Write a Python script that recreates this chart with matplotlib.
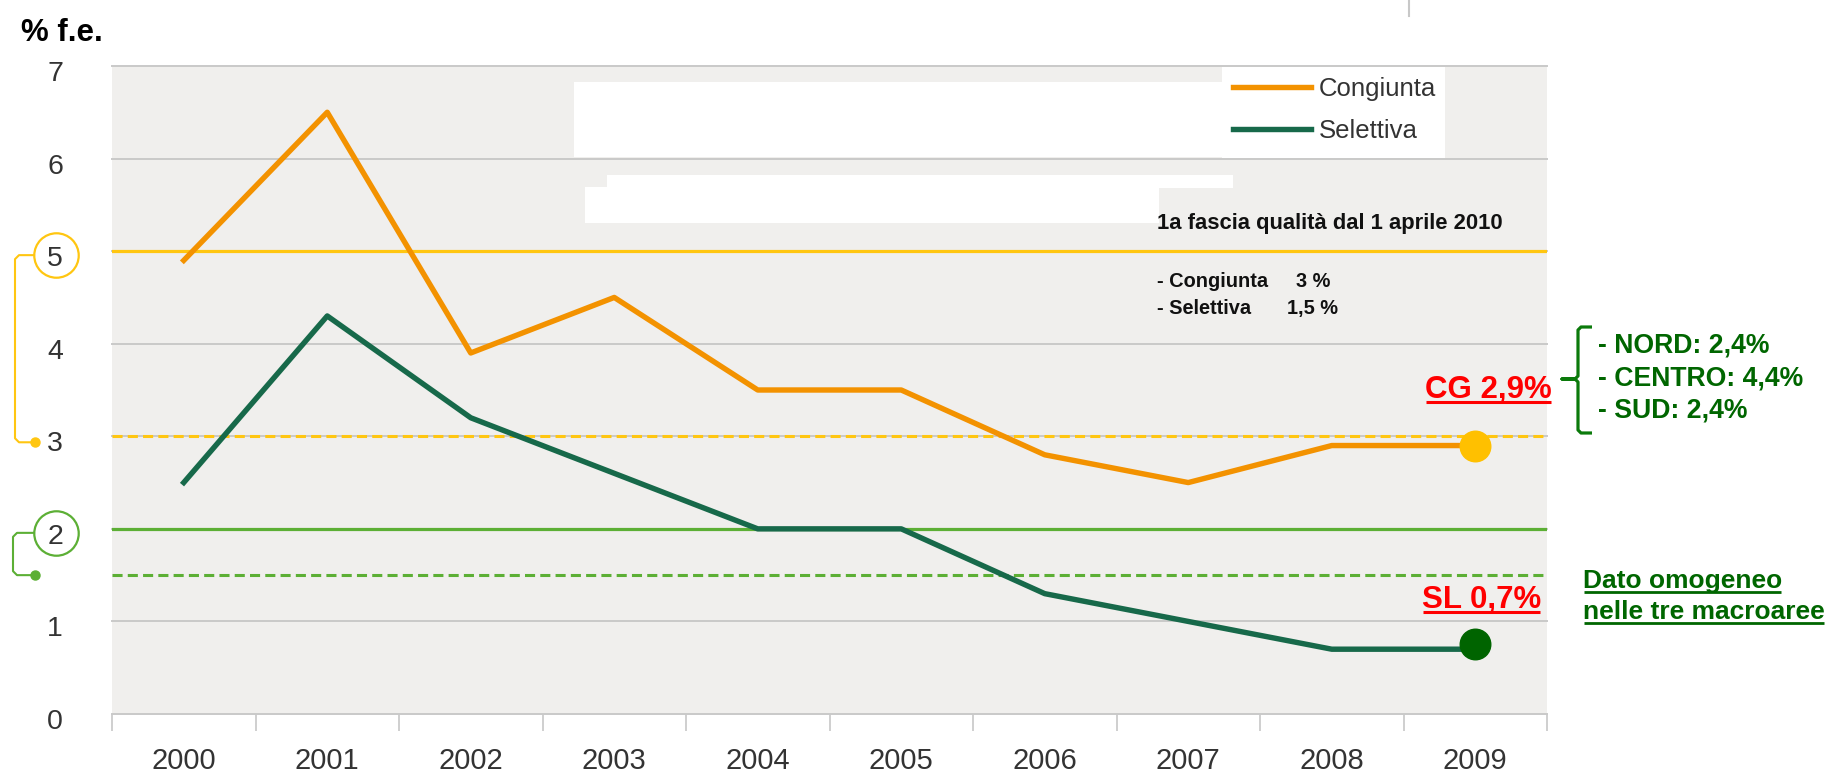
import matplotlib
matplotlib.use('Agg')
import numpy as np
import matplotlib.pyplot as plt
from matplotlib import font_manager
from matplotlib.patches import Rectangle
from matplotlib.lines import Line2D
import matplotlib.transforms as mtrans

# ---------------- data ----------------
years = ['2000', '2001', '2002', '2003', '2004', '2005', '2006', '2007', '2008', '2009']
congiunta = [4.9, 6.5, 3.9, 4.5, 3.5, 3.5, 2.8, 2.5, 2.9, 2.9]
selettiva = [2.5, 4.3, 3.2, 2.6, 2.0, 2.0, 1.3, 1.0, 0.7, 0.7]
y_ticks = [0, 1, 2, 3, 4, 5, 6, 7]
cg_old_limit = 5.0     # soglia congiunta (linea gialla continua)
cg_new_limit = 3.0     # 1a fascia congiunta dal 2010 (tratteggiata)
sl_old_limit = 2.0     # soglia selettiva (linea verde continua)
sl_new_limit = 1.5     # 1a fascia selettiva dal 2010 (tratteggiata)
circled_ticks = [5, 2]

# ---------------- style ----------------
W, H = 1832, 771
plt.rcParams['font.family'] = ['Liberation Sans', 'DejaVu Sans']
C_ORANGE = '#F39200'
C_DKGREEN = '#17694A'
C_YELLOW = '#FFC611'
C_GREEN = '#5CAF35'
C_GRID = '#C9C9C9'
C_BG = '#F0EFED'
C_TXT = '#333333'
C_RED = '#FF0000'
C_ANN = '#006600'

fig = plt.figure(figsize=(W / 100, H / 100), dpi=100)
ax_left, ax_right, ax_top, ax_bot = 112, 1547, 66, 714
ax = fig.add_axes([ax_left / W, 1 - ax_bot / H, (ax_right - ax_left) / W, (ax_bot - ax_top) / H])
ax.set_facecolor(C_BG)
for s in ax.spines.values():
    s.set_visible(False)

x = np.arange(len(years))
ax.set_xlim(-0.5, len(years) - 0.5)
ax.set_ylim(0, 7)
unit_px = (ax_bot - ax_top) / 7.0


def dpx(p):
    return p / unit_px


# grid
ax.set_yticks(y_ticks)
ax.set_yticklabels([str(v) for v in y_ticks])
ax.yaxis.grid(True, color=C_GRID, lw=1.4, zorder=0)
ax.set_axisbelow(True)
for gl in ax.get_ygridlines():
    gl.set_clip_on(False)

ax.tick_params(axis='y', length=0, pad=41, labelsize=20.5, labelcolor=C_TXT)
for lab in ax.get_yticklabels():
    lab.set_horizontalalignment('center')
    lab.set_transform(lab.get_transform() + mtrans.ScaledTranslation(0, -0.05, fig.dpi_scale_trans))

ax.set_xticks(x)
ax.set_xticklabels(years)
ax.set_xticks(np.arange(-0.5, len(years), 1.0), minor=True)
ax.tick_params(axis='x', which='major', length=0, pad=23.5, labelsize=21, labelcolor=C_TXT)
ax.tick_params(axis='x', which='minor', length=12.5, width=1.1, color='#C2C2C2')

# threshold lines
ax.axhline(cg_old_limit, color=C_YELLOW, lw=2.3, zorder=2)
ax.axhline(sl_old_limit, color=C_GREEN, lw=2.3, zorder=2)
ax.axhline(cg_new_limit, color=C_YELLOW, lw=2.2, dashes=(3.3, 1.7), zorder=2)
ax.axhline(sl_new_limit, color=C_GREEN, lw=2.2, dashes=(3.3, 1.7), zorder=2)

# white boxes (masked areas)
def px_rect(x0, y0, x1, y1, z=3):
    ax.add_patch(Rectangle((x0, H - y1), x1 - x0, y1 - y0, transform=mtrans.IdentityTransform(),
                           facecolor='white', edgecolor='none', zorder=z))

px_rect(574, 82, 1230, 157)
px_rect(1222, 67, 1445, 158)
px_rect(607, 175, 1233, 188)
px_rect(585, 187, 1159, 223)

# series
ax.plot(x, congiunta, color=C_ORANGE, lw=3.9, zorder=4, label='Congiunta')
ax.plot(x, selettiva, color=C_DKGREEN, lw=3.9, zorder=4, label='Selettiva')
ax.plot(x[-1], congiunta[-1], 'o', ms=22, color='#FFC000', zorder=6, clip_on=False)
ax.plot(x[-1], selettiva[-1] + dpx(5), 'o', ms=22, color='#006400', zorder=6, clip_on=False)

leg = ax.legend(loc='upper left', bbox_to_anchor=(1233 / W, 1 - 77 / H), bbox_transform=fig.transFigure,
                frameon=False, borderpad=0, borderaxespad=0, handlelength=3.05, handletextpad=0.3,
                labelspacing=0.69, fontsize=18.5)
for t in leg.get_texts():
    t.set_color(C_TXT)
leg.set_zorder(7)

# circled y labels with connectors
yt = mtrans.blended_transform_factory(mtrans.IdentityTransform(), ax.transData)
circ_specs = [(circled_ticks[0], cg_new_limit, C_YELLOW, -4, -6, 15),
              (circled_ticks[1], sl_new_limit, C_GREEN, -4, 0, 13)]
for top_v, bot_v, col, off_top, off_bot, xv in circ_specs:
    yc = top_v + dpx(off_top)
    yb = bot_v + dpx(off_bot)
    ax.plot([56], [yc], 'o', ms=32, mfc='none', mec=col, mew=1.6, transform=yt, clip_on=False, zorder=5)
    ax.plot([34, xv + 4, xv, xv, xv + 4, 34], [yc, yc, yc - dpx(4), yb + dpx(4), yb, yb], color=col,
            lw=1.5, transform=yt, clip_on=False, solid_joinstyle='round')
    ax.plot([35], [yb], 'o', ms=6.5, color=col, transform=yt, clip_on=False)

# ---------------- texts ----------------
def ftext(xp, yp, s, **kw):
    return fig.text(xp / W, 1 - yp / H, s, **kw)


ftext(21, 41, '% f.e.', fontsize=22.5, fontweight='bold', color='black', va='baseline')

narrow = False
try:
    fp = font_manager.findfont(font_manager.FontProperties(family='Liberation Sans Narrow', weight='bold'),
                               fallback_to_default=False)
    narrow = 'Narrow' in fp
except Exception:
    narrow = False
if narrow:
    nfam = ['Liberation Sans Narrow', 'Liberation Sans']
    s_head, s_body = 19.0, 17.5
else:
    nfam = ['Liberation Sans', 'DejaVu Sans']
    s_head, s_body = 15.8, 14.4

ftext(1157, 229, '1a fascia qualità dal 1 aprile 2010', family=nfam, fontsize=s_head, fontweight='bold',
      color='#111111', va='baseline', zorder=8)
ftext(1157, 287, '- Congiunta', family=nfam, fontsize=s_body, fontweight='bold', color='#111111', va='baseline')
ftext(1296, 287, '3 %', family=nfam, fontsize=s_body, fontweight='bold', color='#111111', va='baseline')
ftext(1157, 314, '- Selettiva', family=nfam, fontsize=s_body, fontweight='bold', color='#111111', va='baseline')
ftext(1287, 314, '1,5 %', family=nfam, fontsize=s_body, fontweight='bold', color='#111111', va='baseline')

underlined = []
t = ftext(1552, 398, 'CG 2,9%', fontsize=22.5, fontweight='bold', color=C_RED, va='baseline', ha='right')
underlined.append((t, 402, 2.2))
t = ftext(1541, 608, 'SL 0,7%', fontsize=22.5, fontweight='bold', color=C_RED, va='baseline', ha='right')
underlined.append((t, 612, 2.2))
t = ftext(1583, 588, 'Dato omogeneo', fontsize=19, fontweight='bold', color=C_ANN, va='baseline')
underlined.append((t, 592, 2.0))
t = ftext(1583, 619, 'nelle tre macroaree', fontsize=19, fontweight='bold', color=C_ANN, va='baseline')
underlined.append((t, 623, 2.0))

for i, s in enumerate(['- NORD: 2,4%', '- CENTRO: 4,4%', '- SUD: 2,4%']):
    ftext(1598, 353 + i * 32, s, fontsize=19.2, fontweight='bold', color=C_ANN, va='baseline')

# right curly bracket
bx = [1592, 1581, 1578, 1578, 1575, 1562, 1575, 1578, 1578, 1581, 1592]
by = [327, 327, 330, 376, 379, 379, 379, 382, 430, 433, 433]
fig.add_artist(Line2D(bx, [H - v for v in by], transform=mtrans.IdentityTransform(), color='#0B7A0B',
                      lw=2.3, solid_joinstyle='round', solid_capstyle='butt'))

# small grey mark at top
fig.add_artist(Line2D([1409, 1409], [H, H - 16], transform=mtrans.IdentityTransform(), color='#C8C8C8', lw=1.5))

fig.canvas.draw()
r = fig.canvas.get_renderer()
for t, uy, lw in underlined:
    bb = t.get_window_extent(r)
    fig.add_artist(Line2D([bb.x0 + 1, bb.x1 - 1], [H - uy, H - uy], transform=mtrans.IdentityTransform(),
                          color=t.get_color(), lw=lw, solid_capstyle='butt'))

fig.savefig('out.png', dpi=100)
